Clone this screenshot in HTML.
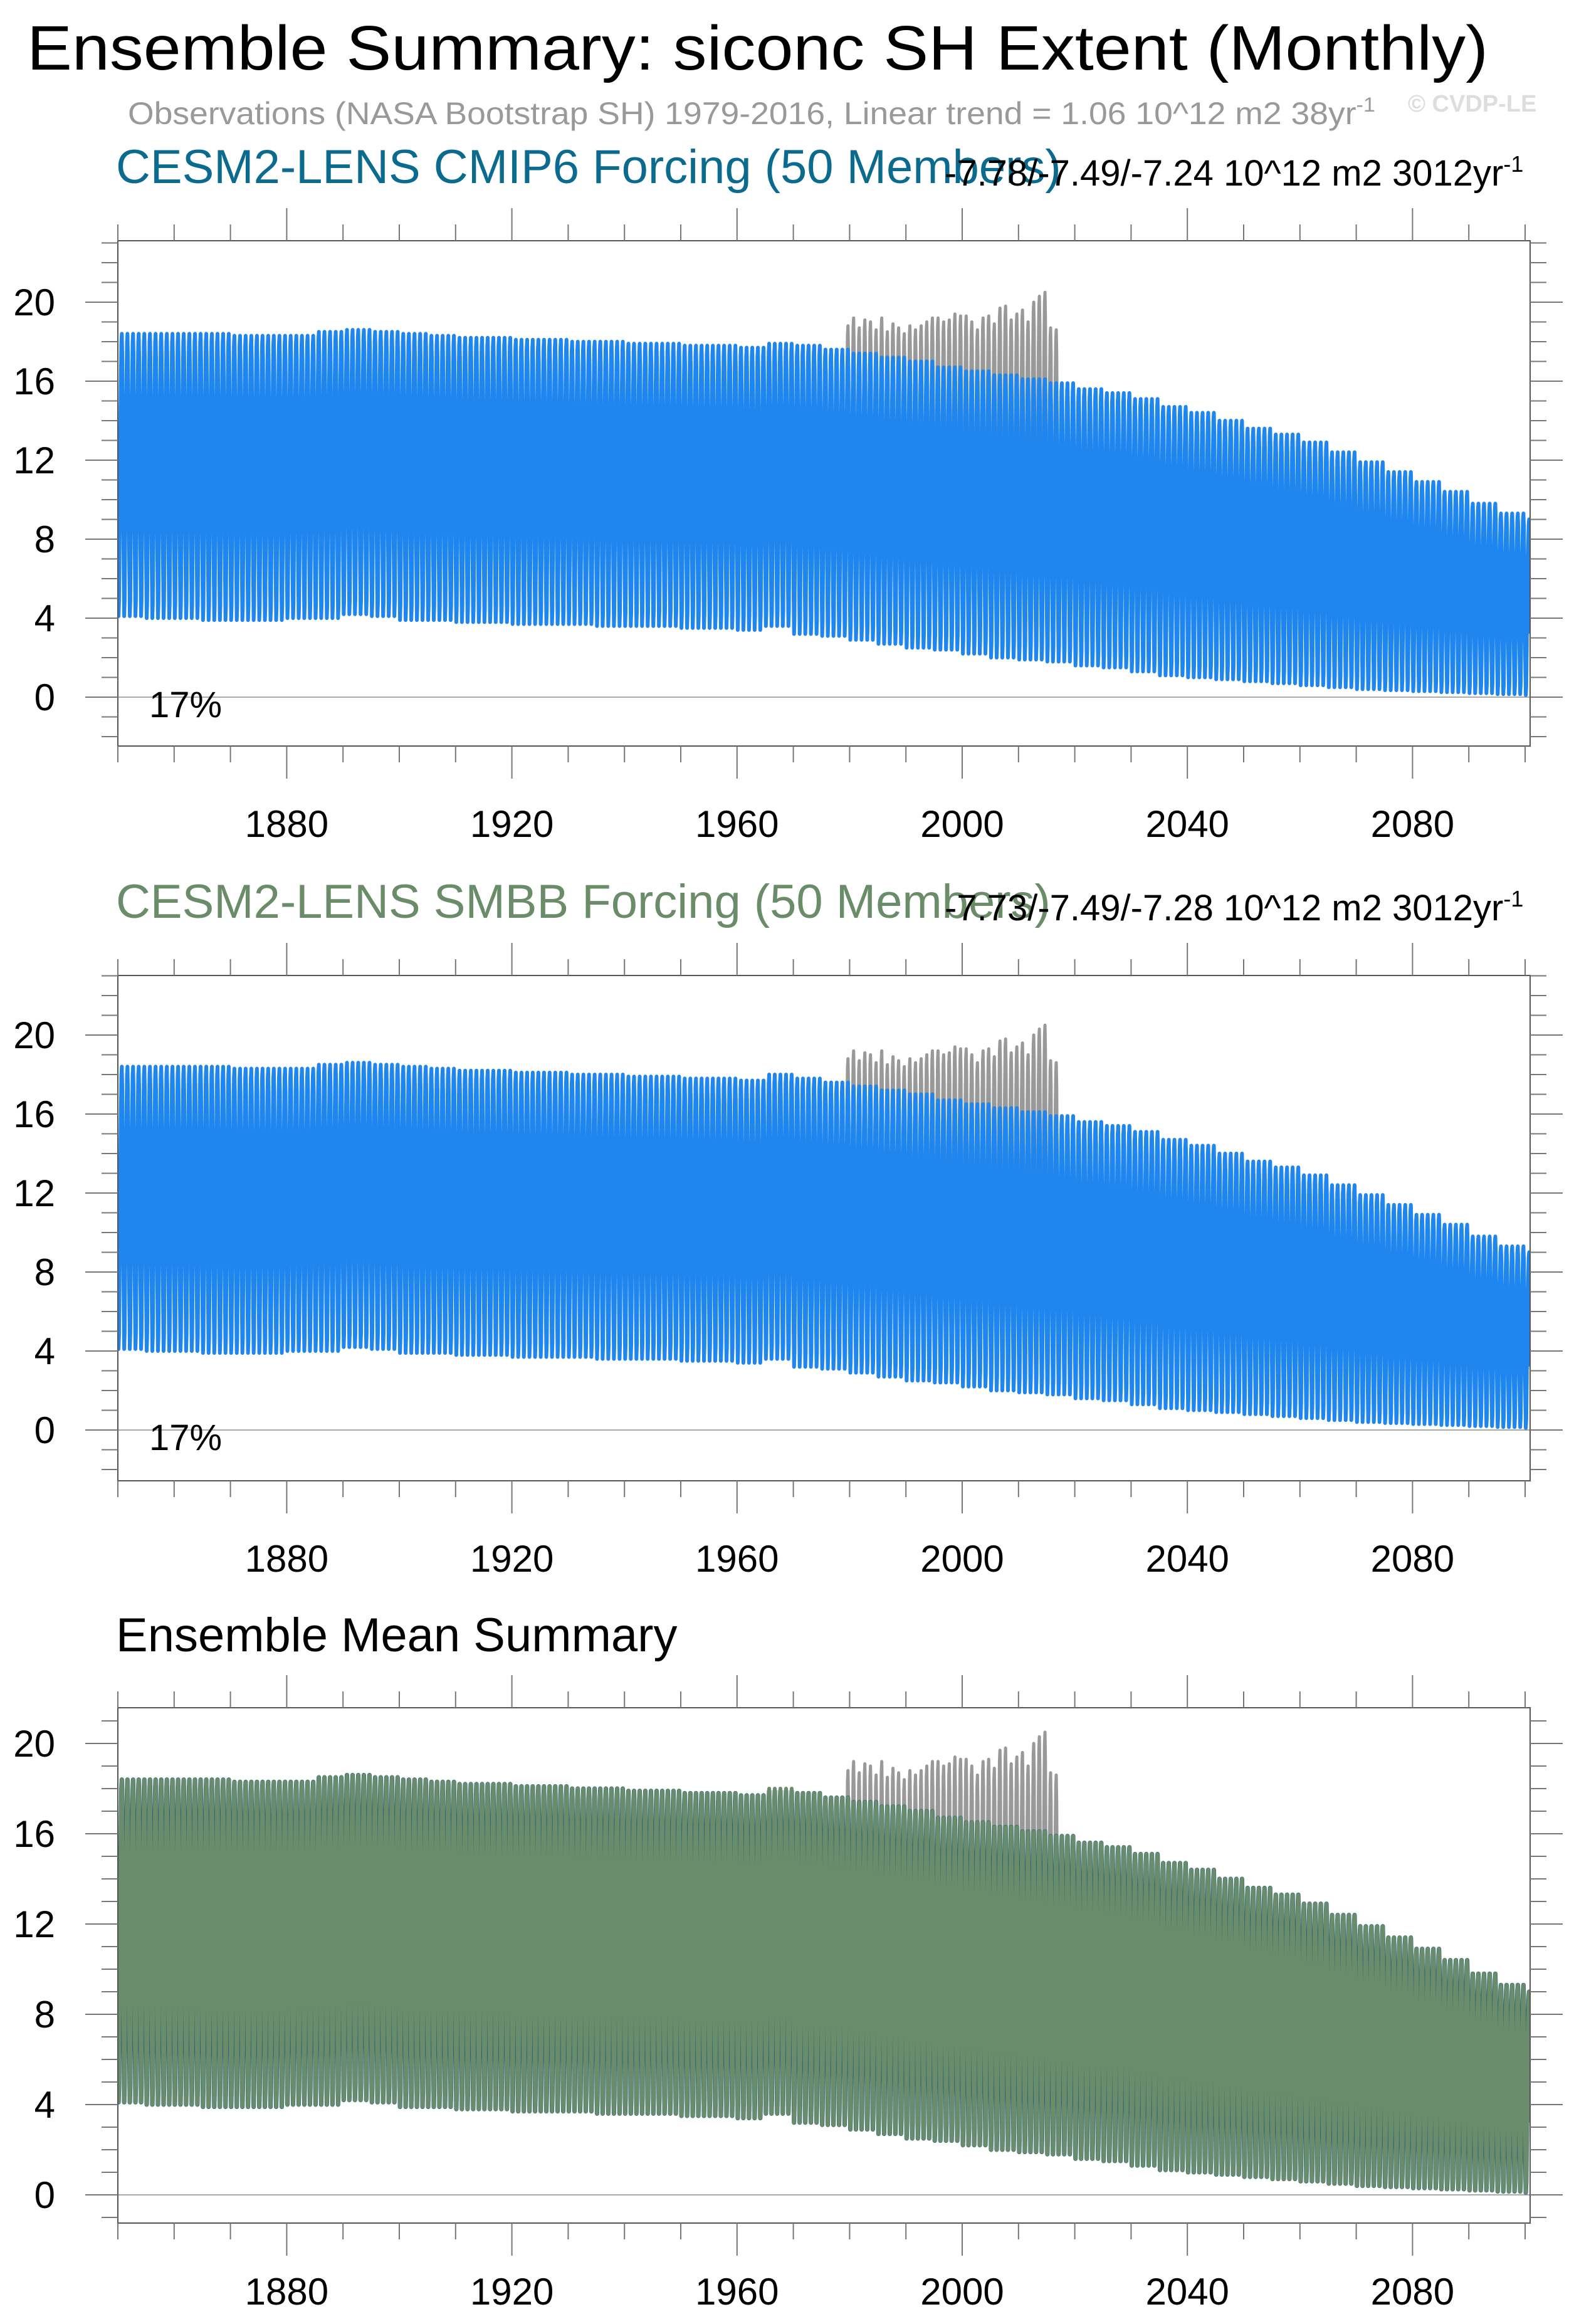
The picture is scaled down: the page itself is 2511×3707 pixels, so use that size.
<!DOCTYPE html>
<html><head><meta charset="utf-8"><style>
html,body{margin:0;padding:0;background:#fff;}
svg{display:block;font-family:"Liberation Sans",sans-serif;}
</style></head><body>
<svg id="chart" width="2511" height="3707" viewBox="0 0 2511 3707" xmlns="http://www.w3.org/2000/svg">
<text x="43" y="111" font-size="100" textLength="2331" lengthAdjust="spacingAndGlyphs">Ensemble Summary: siconc SH Extent (Monthly)</text>
<text x="204" y="198" font-size="50" fill="#999" textLength="1990" lengthAdjust="spacingAndGlyphs">Observations (NASA Bootstrap SH) 1979-2016, Linear trend = 1.06 10^12 m2 38yr<tspan dy="-20" font-size="32">-1</tspan></text>
<text x="2246" y="178" font-size="38" font-weight="bold" fill="#ddd">© CVDP-LE</text>
<g id="panels"></g>
</svg>
<script>
const blockStart = 1850;
const blockLen = 5;
const cmip6Max = [18.4,18.4,18.4,18.4,18.3,18.3,18.3,18.5,18.6,18.5,18.4,18.3,18.2,18.2,18.1,18.1,18.0,18.0,17.9,17.9,17.8,17.8,17.7,17.9,17.8,17.6,17.4,17.2,17.0,16.7,16.5,16.3,16.1,15.9,15.6,15.4,15.1,14.7,14.4,14.0,13.6,13.3,12.9,12.4,11.9,11.4,10.9,10.4,9.8,9.3,9.0];
const cmip6Min = [4.1,4.0,4.0,3.9,3.9,3.9,4.0,4.0,4.2,4.1,3.9,3.9,3.8,3.8,3.7,3.7,3.7,3.6,3.6,3.6,3.5,3.5,3.4,3.6,3.2,3.1,2.9,2.7,2.5,2.4,2.2,2.0,1.9,1.8,1.6,1.5,1.3,1.1,1.0,0.9,0.8,0.7,0.6,0.5,0.4,0.35,0.3,0.25,0.2,0.15,0.1];
const smbbMax = [18.4,18.4,18.4,18.4,18.3,18.3,18.3,18.5,18.6,18.5,18.4,18.3,18.2,18.2,18.1,18.1,18.0,18.0,17.9,17.9,17.8,17.8,17.7,18.0,17.8,17.6,17.4,17.2,17.0,16.7,16.5,16.3,16.1,15.9,15.6,15.4,15.1,14.7,14.4,14.0,13.6,13.3,12.9,12.4,11.9,11.4,10.9,10.4,9.8,9.3,9.0];
const smbbMin = [4.1,4.0,4.0,3.9,3.9,3.9,4.0,4.0,4.2,4.1,3.9,3.9,3.8,3.8,3.7,3.7,3.7,3.6,3.6,3.6,3.5,3.5,3.4,3.6,3.2,3.1,2.9,2.7,2.5,2.4,2.2,2.0,1.9,1.8,1.6,1.5,1.3,1.1,1.0,0.9,0.8,0.7,0.6,0.5,0.4,0.35,0.3,0.25,0.2,0.15,0.1];
const obsYears = [1979,1980,1981,1982,1983,1984,1985,1986,1987,1988,1989,1990,1991,1992,1993,1994,1995,1996,1997,1998,1999,2000,2001,2002,2003,2004,2005,2006,2007,2008,2009,2010,2011,2012,2013,2014,2015,2016];
const obsMax = [18.8,19.2,18.7,19.1,19.0,18.6,19.2,18.5,18.9,18.7,18.4,18.8,18.6,18.8,19.0,19.2,19.2,19.0,19.1,19.4,19.3,19.3,19.0,18.6,19.2,19.3,18.9,19.7,19.8,19.1,19.4,19.6,19.0,20.0,20.3,20.5,18.7,18.6];
const obsMin = [3.2,3.0,3.1,3.2,3.0,3.1,3.0,3.1,3.0,3.2,3.1,3.0,3.1,3.2,3.0,3.1,3.0,3.2,3.1,3.0,3.1,3.2,3.1,3.0,3.1,3.0,3.1,3.2,3.0,3.1,3.2,3.0,3.1,3.3,3.2,3.3,2.8,2.9];
const seasonal = [0.15,0.0,0.05,0.25,0.5,0.7,0.85,0.97,1.0,0.92,0.65,0.35];
const xTicks = [1880,1920,1960,2000,2040,2080];
const yTicks = [0,4,8,12,16,20];

const NS = "http://www.w3.org/2000/svg";
const root = document.getElementById('panels');
function mk(tag, attrs, parent){const e=document.createElementNS(NS,tag);for(const k in attrs)e.setAttribute(k,attrs[k]);(parent||root).appendChild(e);return e;}

const xL=188, xR=2441;
function xScale(yr){return xL+(yr-1850)*8.98;}

function seriesPath(years, maxArr, minArr, yS){
  let d='';
  years.forEach((yr,i)=>{
    for(let m=0;m<12;m++){
      const v=minArr[i]+(maxArr[i]-minArr[i])*seasonal[m];
      d+=(d?'L':'M')+xScale(yr+m/12+0.04).toFixed(2)+','+yS(v).toFixed(2);
    }
  });
  return d;
}
function yearly(arr){
  const ys=[],vs=[];
  for(let yr=1850;yr<=2100;yr++){ys.push(yr);vs.push(arr[Math.min(Math.floor((yr-blockStart)/blockLen),arr.length-1)]);}
  return [ys,vs];
}

function panel(cfg){
  const g=mk('g',{});
  
  
  const yS=v=>cfg.y0-(v)*cfg.ppu;
  const top=cfg.top, bot=cfg.bot;
  const t=mk('text',{x:185,y:cfg.titleY,'font-size':76,fill:cfg.titleColor},g);
  t.textContent=cfg.title;
  
  
  if(cfg.stats){
    const s=mk('text',{x:1507,y:cfg.titleY+4,'font-size':58,fill:'#000'},g);
    s.textContent=cfg.stats;
    const sp=mk('tspan',{dy:-22,'font-size':36},s);sp.textContent='-1';
    
    
  }
  const cid='clip'+cfg.id;
  const cp=mk('clipPath',{id:cid},g);mk('rect',{x:xL,y:top,width:xR-xL,height:bot-top},cp);
  const plot=mk('g',{'clip-path':'url(#'+cid+')'},g);
  const zl=mk('line',{x1:xL,x2:xR,y1:yS(0),y2:yS(0),stroke:'#aaa','stroke-width':2},plot);
  
  
  const ob=mk('path',{d:seriesPath(obsYears,obsMax,obsMin,yS),fill:'none',stroke:'#999','stroke-width':5,'stroke-linejoin':'round'},plot);
  
  
  cfg.series.forEach(sr=>{
    const [ys,mx]=yearly(sr.max);const [,mn]=yearly(sr.min);
    const p=mk('path',{d:seriesPath(ys,mx,mn,yS),fill:'none',stroke:sr.color,'stroke-width':sr.w||6,'stroke-linejoin':'round'},plot);
    
    
  });
  const fr=mk('rect',{x:xL,y:top,width:xR-xL,height:bot-top,fill:'none',stroke:'#555','stroke-width':2},g);
  
  
  for(let yr=1850;yr<=2100;yr+=10){
    const x=xScale(yr);const maj=xTicks.includes(yr);const L=maj?52:26;
    mk('line',{x1:x,x2:x,y1:top,y2:top-L,stroke:'#777','stroke-width':2},g);
    mk('line',{x1:x,x2:x,y1:bot,y2:bot+L,stroke:'#777','stroke-width':2},g);
  }
  xTicks.forEach(yr=>{
    const tl=mk('text',{x:xScale(yr),y:bot+cfg.labOff,'font-size':60,'text-anchor':'middle'},g);
    tl.textContent=yr;
    
    
  });
  for(let v=Math.ceil(cfg.vmin);v<=cfg.vmax;v++){
    const y=yS(v);const maj=(v%4===0);const L=maj?52:26;
    mk('line',{x1:xL,x2:xL-L,y1:y,y2:y,stroke:'#777','stroke-width':2},g);
    mk('line',{x1:xR,x2:xR+L,y1:y,y2:y,stroke:'#777','stroke-width':2},g);
  }
  yTicks.forEach(v=>{
    const tl=mk('text',{x:88,y:yS(v)+21,'font-size':60,'text-anchor':'end'},g);
    tl.textContent=v;
    
    
  });
  if(cfg.pct){
    const pt=mk('text',{x:238,y:yS(0)+32,'font-size':58},g);pt.textContent='17%';
    
    
  }
}

panel({id:1,name:'cmip6-panel',top:384,bot:1190,y0:1112,ppu:31.5,vmin:-2.4,vmax:23,titleY:292,titleColor:'#0b6b8e',labOff:145,
  title:'CESM2-LENS CMIP6 Forcing (50 Members)',stats:'-7.78/-7.49/-7.24 10^12 m2 3012yr',pct:true,
  series:[{name:'cmip6-ensemble-series',max:cmip6Max,min:cmip6Min,color:'#1e86ee'}]});
panel({id:2,name:'smbb-panel',top:1556,bot:2362,y0:2281,ppu:31.5,vmin:-2.5,vmax:23,titleY:1464,titleColor:'#6a8c69',labOff:145,
  title:'CESM2-LENS SMBB Forcing (50 Members)',stats:'-7.73/-7.49/-7.28 10^12 m2 3012yr',pct:true,
  series:[{name:'smbb-ensemble-series',max:smbbMax,min:smbbMin,color:'#1e86ee'}]});
panel({id:3,name:'ensemble-mean-panel',top:2724,bot:3546,y0:3501,ppu:36,vmin:-1.2,vmax:21.5,titleY:2634,titleColor:'#000',labOff:130,
  title:'Ensemble Mean Summary',stats:null,pct:false,
  series:[{name:'cmip6-mean-series',max:cmip6Max,min:cmip6Min,color:'#1a5f80',w:7},
          {name:'smbb-mean-series',max:smbbMax,min:smbbMin,color:'#6a8c6a',w:6}]});
</script>
</body></html>
